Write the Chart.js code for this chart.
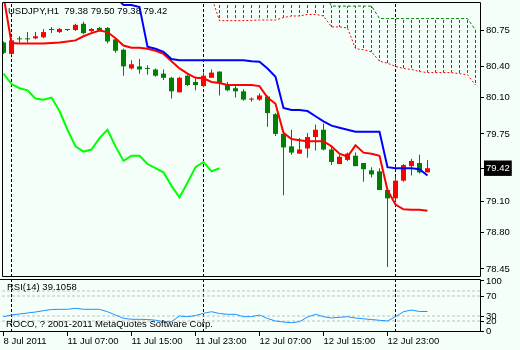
<!DOCTYPE html>
<html>
<head>
<meta charset="utf-8">
<script src="https://cdn.jsdelivr.net/npm/chart.js@4.4.1/dist/chart.umd.min.js"></script>
<style>
  body { margin: 0; }
  #wrap { position: relative; width: 520px; height: 350px; background: #F5FFFA; overflow: hidden; }
  #wrap canvas { position: absolute; left: 0; }
  #main { top: 0; }
  #rsi { top: 277px; }
</style>
</head>
<body>
<div id="wrap">
  <canvas id="main" width="520" height="279"></canvas>
  <canvas id="rsi" width="520" height="73"></canvas>
</div>
<script>
// bar index 0 = 11 Jul 00:00, one bar per hour
const symbol = 'USDJPY,H1';
const firstBar = -1;

const opens  = [80.63, 80.52, 80.665, 80.665, 80.67, 80.68, 80.755, 80.73, 80.755, 80.75, 80.81, 80.74, 80.77, 80.77, 80.66, 80.56,
  80.38, 80.40, 80.385, 80.37, 80.33, 80.29, 80.15, 80.31, 80.25, 80.21, 80.29, 80.35, 80.22, 80.19, 80.16, 80.08, 80.08,
  80.11, 79.94, 79.75, 79.63, 79.56, 79.61, 79.72, 79.79, 79.60, 79.46, 79.50, 79.54, 79.47, 79.40, 79.39, 79.21, 79.13,
  79.30, 79.44, 79.47, 79.38];
const highs  = [80.64, 80.67, 80.69, 80.73, 80.73, 80.76, 80.78, 80.77, 80.76, 80.81, 80.83, 80.77, 80.78, 80.78, 80.67, 80.57,
  80.46, 80.47, 80.41, 80.38, 80.37, 80.30, 80.30, 80.32, 80.30, 80.34, 80.37, 80.35, 80.25, 80.21, 80.18, 80.10, 80.14,
  80.12, 79.95, 79.76, 79.79, 79.71, 79.76, 79.84, 79.85, 79.63, 79.55, 79.57, 79.57, 79.47, 79.43, 79.42, 79.23, 79.34,
  79.46, 79.51, 79.55, 79.50];
const lows   = [80.52, 80.51, 80.63, 80.63, 80.66, 80.67, 80.72, 80.72, 80.74, 80.74, 80.71, 80.72, 80.74, 80.62, 80.53, 80.31,
  80.37, 80.33, 80.32, 80.30, 80.27, 80.09, 80.15, 80.21, 80.17, 80.20, 80.29, 80.12, 80.16, 80.10, 80.07, 80.06, 80.07,
  79.82, 79.73, 79.16, 79.55, 79.56, 79.52, 79.59, 79.59, 79.45, 79.46, 79.49, 79.44, 79.29, 79.33, 79.21, 78.47, 79.10,
  79.29, 79.35, 79.37, 79.38];
const closes = [80.53, 80.65, 80.66, 80.66, 80.69, 80.73, 80.75, 80.76, 80.75, 80.80, 80.72, 80.76, 80.75, 80.64, 80.55, 80.40,
  80.42, 80.37, 80.375, 80.31, 80.29, 80.16, 80.29, 80.22, 80.22, 80.31, 80.34, 80.24, 80.17, 80.16, 80.08, 80.09, 80.12,
  79.95, 79.75, 79.62, 79.57, 79.60, 79.72, 79.79, 79.60, 79.48, 79.53, 79.56, 79.44, 79.41, 79.36, 79.21, 79.13, 79.30,
  79.45, 79.49, 79.38, 79.42];

const tenkan = [81.08, 80.625, 80.62, 80.62, 80.62, 80.62, 80.625, 80.63, 80.64, 80.65, 80.69, 80.72, 80.745, 80.73, 80.67, 80.60,
  80.58, 80.58, 80.57, 80.55, 80.52, 80.45, 80.38, 80.33, 80.29, 80.285, 80.25, 80.24, 80.22, 80.22, 80.22, 80.22, 80.21,
  80.10, 80.04, 79.76, 79.70, 79.69, 79.68, 79.68, 79.68, 79.63, 79.56, 79.53, 79.64, 79.57, 79.56, 79.54, 79.21, 79.07,
  79.025, 79.02, 79.02, 79.01];
const kijun = [null, null, null, null, null, null, null, null, null, null, null, null, null, null, 81.07, 80.99,
  80.99, 80.97, 80.59, 80.57, 80.54, 80.47, 80.46, 80.46, 80.46, 80.46, 80.46, 80.46, 80.46, 80.46, 80.46, 80.45, 80.445,
  80.38, 80.30, 80.00, 79.98, 79.98, 79.97, 79.92, 79.87, 79.83, 79.81, 79.79, 79.77, 79.77, 79.77, 79.77, 79.43, 79.42,
  79.42, 79.42, 79.41, 79.35];
const chikou = [80.33, 80.23, 80.19, 80.17, 80.09, 80.08, 80.10, 79.97, 79.79, 79.63, 79.58, 79.60, 79.71, 79.79, 79.63, 79.49,
  79.54, 79.54, 79.46, 79.42, 79.38, 79.25, 79.14, 79.28, 79.43, 79.48, 79.39, 79.42];

// cloud, shifted 26 bars ahead
const cloudStart = 25;
const spanA = [81.07, 80.84, 80.84, 80.84, 80.84, 80.843, 80.846, 80.846, 80.846, 80.87, 80.885, 80.885, 80.90, 80.90, 80.885,
  80.78, 80.78, 80.77, 80.57, 80.56, 80.54, 80.45, 80.43, 80.40, 80.38, 80.37, 80.35, 80.34, 80.34, 80.34, 80.34, 80.33,
  80.32, 80.22];
const spanB = [81.12, 81.12, 81.12, 81.12, 81.12, 81.12, 81.12, 81.12, 81.12, 81.12, 81.12, 81.12, 81.12, 81.12, 81.12,
  80.98, 80.98, 80.98, 80.98, 80.98, 80.98, 80.86, 80.86, 80.86, 80.86, 80.86, 80.86, 80.86, 80.86, 80.86, 80.86, 80.86,
  80.86, 80.75];

const rsiValues = [28.6, 32, 34, 36, 38, 40.6, 43, 43.4, 43.4, 45.4, 43.4, 43.4, 43.4, 38.6, 32, 25.4,
  23.4, 23.4, 23, 21.6, 18.6, 18.6, 30, 28.6, 31, 35.4, 38.6, 35, 33.4, 33.4, 28.6, 28.6, 32,
  25, 20, 18, 16.6, 18.6, 28, 33.4, 28.6, 26, 27.4, 28.6, 26, 24.4, 23, 21.4, 20, 28.6,
  38.6, 42, 39, 39.1058];
const rsiLast = 39.1058;

const priceTicks = [80.75, 80.40, 80.10, 79.75, 79.10, 78.80, 78.45];
const lastPrice = 79.42;
const rsiTicks = [100, 70, 30, 20, 0];
const rsiLevels = [80, 70, 30, 20];
const timeTicks = [-1, 7, 15, 23, 31, 39, 47];
const timeLabels = ['8 Jul 2011', '11 Jul 07:00', '11 Jul 15:00', '11 Jul 23:00', '12 Jul 07:00', '12 Jul 15:00', '12 Jul 23:00'];
const daySeparators = [0, 24, 48];

const xMin = -1.1875, xMax = 58.5625;
const priceMin = 78.373, priceMax = 81.0195;
const rsiMin = -2, rsiMax = 104;

const UP = '#FF0000', DOWN = '#008000';
const FONT = '"Liberation Sans", Arial, sans-serif';
const tickFont = { family: FONT, size: 9.5 };

const pts = (arr, start) => arr.map((v, i) => ({ x: start + i, y: v }));
const vlines = (lo, hi) => daySeparators.flatMap(b => [{ x: b, y: lo }, { x: b, y: hi }, { x: b, y: null }]);
const candleColors = opens.map((o, i) => closes[i] > opens[i] ? UP : DOWN);

const mainCanvas = document.getElementById('main');
function hatchPattern(color) {
  const c = document.createElement('canvas');
  c.width = 1; c.height = 5;
  const g = c.getContext('2d');
  g.fillStyle = color;
  g.fillRect(0, 0, 1, 3);
  return mainCanvas.getContext('2d').createPattern(c, 'repeat');
}

const mainFrame = {
  id: 'mainFrame',
  afterDraw(chart) {
    const { ctx, chartArea: a } = chart;
    ctx.save();
    ctx.strokeStyle = '#000';
    ctx.lineWidth = 1;
    ctx.beginPath();
    ctx.moveTo(a.left + 0.5, a.top + 0.5);
    ctx.lineTo(a.right + 0.5, a.top + 0.5);
    ctx.lineTo(a.right + 0.5, a.bottom - 0.5);
    ctx.lineTo(a.left + 0.5, a.bottom - 0.5);
    ctx.closePath();
    ctx.stroke();
    ctx.font = '9.5px ' + FONT;
    ctx.fillStyle = '#000';
    ctx.textBaseline = 'middle';
    const n = closes.length - 1;
    ctx.fillText(symbol + '  ' + [opens[n], highs[n], lows[n], closes[n]].map(v => v.toFixed(2)).join(' '), 8, 11);
    ctx.restore();
  }
};

const rsiFrame = {
  id: 'rsiFrame',
  afterDraw(chart) {
    const { ctx, chartArea: a } = chart;
    ctx.save();
    ctx.strokeStyle = '#000';
    ctx.lineWidth = 1;
    ctx.beginPath();
    ctx.moveTo(0, a.top + 0.5);
    ctx.lineTo(a.right + 0.5, a.top + 0.5);
    ctx.lineTo(a.right + 0.5, a.bottom - 0.5);
    ctx.lineTo(0, a.bottom - 0.5);
    ctx.stroke();
    ctx.font = '9.5px ' + FONT;
    ctx.fillStyle = '#000';
    ctx.textBaseline = 'middle';
    ctx.fillText('RSI(14) ' + rsiLast.toFixed(4), 7, 10);
    ctx.fillText('ROCO, ? 2001-2011 MetaQuotes Software Corp.', 6, 47);
    ctx.restore();
  }
};

const commonOpts = {
  responsive: false,
  animation: false,
  events: [],
  plugins: { legend: { display: false }, tooltip: { enabled: false } },
  datasets: {
    line: { pointRadius: 0, tension: 0, fill: false, clip: 0 },
    bar: { grouped: false, inflateAmount: 0, borderWidth: 0, clip: 0 }
  }
};

new Chart(mainCanvas, {
  type: 'bar',
  data: {
    datasets: [
      { type: 'line', data: pts(kijun, firstBar), borderColor: '#0000FF', borderWidth: 2, order: -1 },
      { type: 'line', data: pts(tenkan, firstBar), borderColor: '#FF0000', borderWidth: 2, order: 0 },
      { type: 'line', data: pts(chikou, firstBar), borderColor: '#00FF00', borderWidth: 2, order: 0 },
      { data: opens.map((o, i) => ({ x: firstBar + i, y: [o, closes[i]] })), backgroundColor: candleColors, barThickness: 5, minBarLength: 1, order: 1 },
      { data: lows.map((l, i) => ({ x: firstBar + i, y: [l, highs[i]] })), backgroundColor: candleColors, barThickness: 1, order: 2 },
      { type: 'line', data: pts(spanA, cloudStart), borderColor: '#FF0000', borderWidth: 1, borderDash: [2, 2], order: 3 },
      { type: 'line', data: pts(spanB, cloudStart), borderColor: '#008000', borderWidth: 1, borderDash: [3, 2], order: 3 },
      { data: spanA.map((a, i) => ({ x: cloudStart + i, y: [a, spanB[i]] })), backgroundColor: hatchPattern('#008000'), barThickness: 1, order: 4 },
      { type: 'line', data: vlines(priceMin, priceMax), borderColor: '#000', borderWidth: 1, borderDash: [3, 2], order: 5 }
    ]
  },
  options: Object.assign({}, commonOpts, {
    layout: { padding: { left: 2, top: 2, right: 0, bottom: 2 } },
    scales: {
      x: { type: 'linear', min: xMin, max: xMax, display: false, offset: false },
      y: {
        position: 'right', min: priceMin, max: priceMax,
        afterBuildTicks: s => { s.ticks = priceTicks.concat([lastPrice]).map(v => ({ value: v })); },
        afterFit: s => { s.width = 40; s.paddingTop = 0; s.paddingBottom = 0; },
        border: { display: false },
        grid: { drawOnChartArea: false, color: '#000', tickLength: 4 },
        ticks: {
          autoSkip: false, padding: 2, font: tickFont,
          color: c => (c.tick && c.tick.value === lastPrice) ? '#FFFFFF' : '#000',
          showLabelBackdrop: c => !!(c.tick && c.tick.value === lastPrice),
          backdropColor: '#000', backdropPadding: { x: 2, y: 2 },
          callback: v => v.toFixed(2)
        }
      }
    }
  }),
  plugins: [mainFrame]
});

new Chart(document.getElementById('rsi'), {
  type: 'line',
  data: {
    datasets: [
      { data: pts(rsiValues, firstBar), borderColor: '#1E90FF', borderWidth: 1, order: 0 },
      { data: rsiLevels.flatMap(v => [{ x: xMin, y: v }, { x: xMax, y: v }, { x: xMax, y: null }]), borderColor: '#C0C0C0', borderWidth: 1, borderDash: [3, 2], order: 1 },
      { data: vlines(rsiMin, rsiMax), borderColor: '#000', borderWidth: 1, borderDash: [3, 2], order: 2 }
    ]
  },
  options: Object.assign({}, commonOpts, {
    layout: { padding: { left: 2, top: 2, right: 0, bottom: 0 } },
    scales: {
      x: {
        type: 'linear', min: xMin, max: xMax, offset: false,
        afterBuildTicks: s => { s.ticks = timeTicks.map(v => ({ value: v })); },
        afterFit: s => { s.height = 18; s.paddingLeft = 0; s.paddingRight = 0; },
        border: { display: false },
        grid: { drawOnChartArea: false, color: '#000', tickLength: 4 },
        ticks: { autoSkip: false, maxRotation: 0, minRotation: 0, align: 'start', padding: 0, font: tickFont, color: '#000',
          callback: (v, i) => timeLabels[i] }
      },
      y: {
        position: 'right', min: rsiMin, max: rsiMax,
        afterBuildTicks: s => { s.ticks = rsiTicks.map(v => ({ value: v })); },
        afterFit: s => { s.width = 40; s.paddingTop = 0; s.paddingBottom = 0; },
        border: { display: false },
        grid: { drawOnChartArea: false, color: '#000', tickLength: 4 },
        ticks: { autoSkip: false, padding: 2, font: tickFont, color: '#000', callback: v => String(v) }
      }
    }
  }),
  plugins: [rsiFrame]
});
</script>
</body>
</html>
